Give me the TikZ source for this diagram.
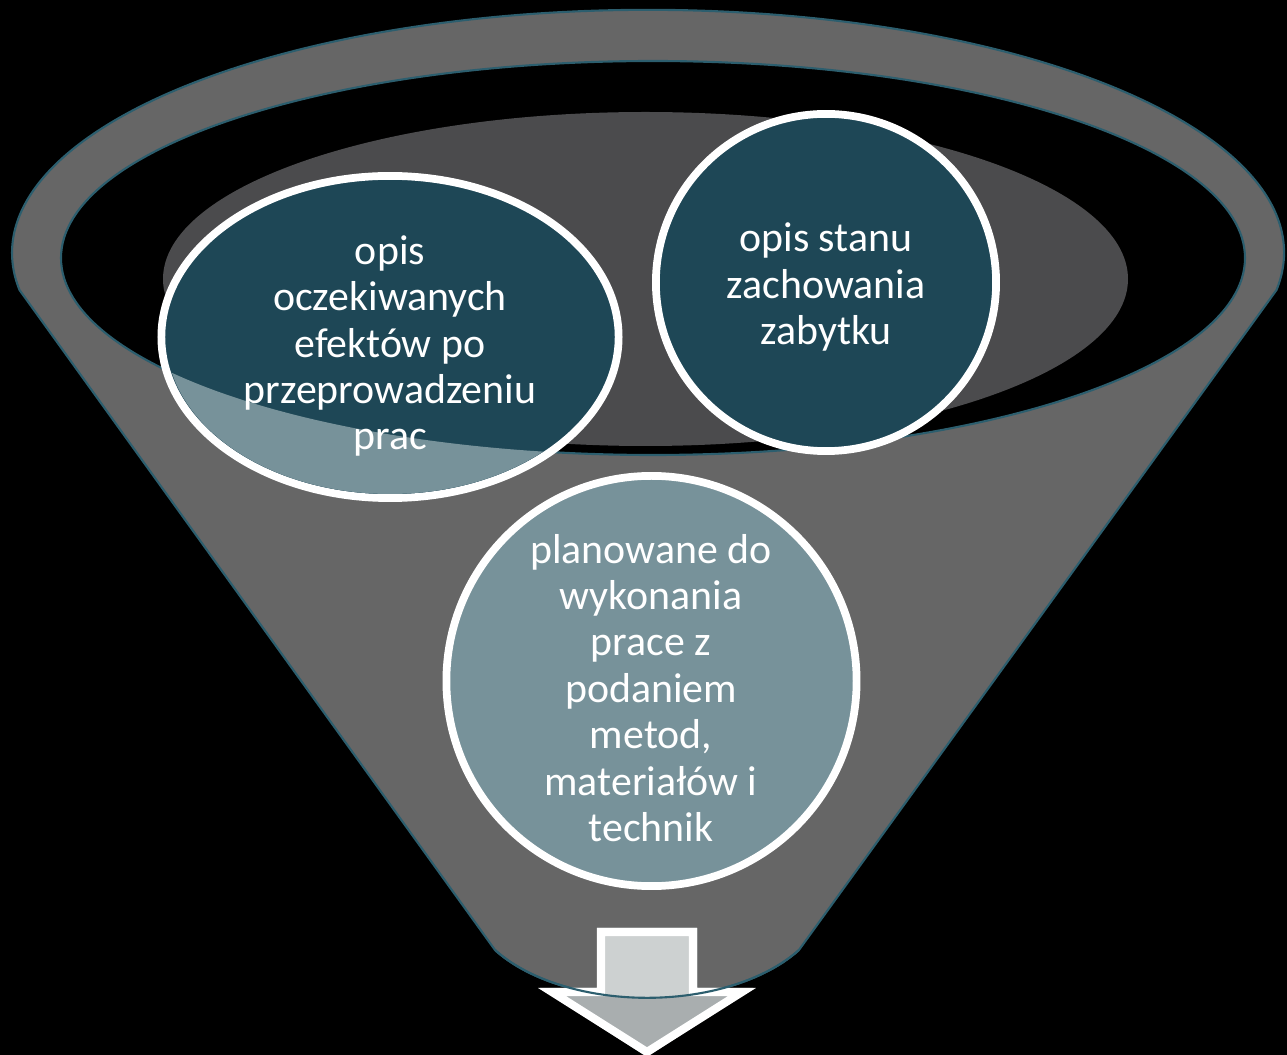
\documentclass[tikz,border=0pt]{standalone}
\usepackage{fontspec}
\setmainfont{Carlito}
\usepackage{tikz}
\usetikzlibrary{shapes.geometric,positioning}
\definecolor{funnelgray}{HTML}{666666}
\definecolor{rimteal}{HTML}{2C5E6E}
\definecolor{bowlgray}{HTML}{4B4B4D}
\definecolor{darkteal}{HTML}{1E4756}
\definecolor{paleteal}{HTML}{77929A}
\definecolor{shaftgray}{HTML}{CDD1D1}
\definecolor{headgray}{HTML}{A9AEAF}
\tikzset{
  bubble/.style={ellipse,draw=white,line width=2.2pt,fill=darkteal,inner sep=0pt},
  btext/.style={align=center,text=white,font=\fontsize{11.9}{13.2}\selectfont},
  rim/.style={draw=rimteal,line width=0.6pt},
}

\begin{document}
\begin{tikzpicture}[x=0.01cm,y=-0.01cm]
\useasboundingbox[fill=black] (0,0) rectangle (1287,1055);
% funnel
\path[fill=funnelgray,rim] (1276.5,290) arc[start angle=8.8,end angle=-188.8,x radius=636,y radius=243]
  -- (495,950) arc[start angle=147.6,end angle=32.4,x radius=180,y radius=103] -- cycle;
\path[fill=black,rim] (653,258) ellipse[x radius=592,y radius=197];
\path[fill=bowlgray] (645.5,279) ellipse[x radius=482.5,y radius=167];

% arrow
\path[fill=headgray] (597,928) -- (697,928) -- (697,988) -- (753,988) -- (647,1057) -- (540,988) -- (597,988) -- cycle;
\begin{scope}
\clip (597,928) -- (697,928) -- (697,988) -- (753,988) -- (647,1057) -- (540,988) -- (597,988) -- cycle;
\path[fill=shaftgray] (0,0) rectangle (1287,950) (495,950) arc[start angle=147.6,end angle=32.4,x radius=180,y radius=103] -- cycle;
\end{scope}
\draw[white,line width=2.3pt,miter limit=10] (601,932) -- (693,932) -- (693,992) -- (742,992) -- (647,1052) -- (552,992) -- (601,992) -- cycle;
\draw[rimteal,line width=0.6pt] (495,950) arc[start angle=147.6,end angle=32.4,x radius=180,y radius=103];

% circles
\node (effects) at (390,337) [bubble,minimum width=4.57cm,minimum height=3.22cm] {};
\node (state) at (826,282.5) [bubble,minimum width=3.4cm,minimum height=3.37cm] {};
\node (works) at (651.5,681) [bubble,fill=paleteal,minimum width=4.1cm,minimum height=4.1cm] {};

\begin{scope}
\clip (390,337) ellipse[x radius=224,y radius=157];
\path[fill=paleteal,even odd rule] (0,0) rectangle (1287,1055) (653,258) ellipse[x radius=592,y radius=197];
\end{scope}

\node (effects-txt) at (390,346) [btext] {opis\\oczekiwanych\\efektów po\\przeprowadzeniu\\prac};
\node (state-txt) at (826,287) [btext] {opis stanu\\zachowania\\zabytku};
\node (works-txt) at (651,688) [btext] {planowane do\\wykonania\\prace z\\podaniem\\metod,\\materiałów i\\technik};
\end{tikzpicture}
\end{document}
